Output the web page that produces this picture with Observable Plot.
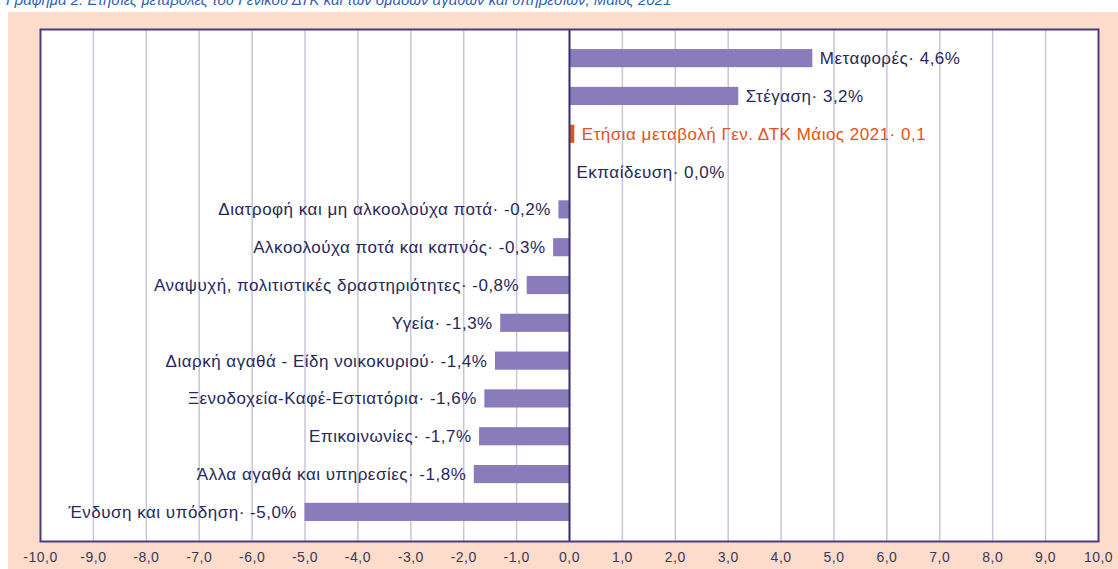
<!DOCTYPE html>
<html>
<head>
<meta charset="utf-8">
<script src="https://cdn.jsdelivr.net/npm/d3@7"></script>
<script src="https://cdn.jsdelivr.net/npm/@observablehq/plot@0.6"></script>
<style>
  html, body { margin: 0; padding: 0; background: #ffffff; width: 1118px; height: 569px; overflow: hidden; }
  #title { position: absolute; left: 6px; top: 0; width: 1110px; height: 11px; overflow: hidden; }
  #title span { position: absolute; left: 0; top: -9px; font: italic 15px "Liberation Sans", Arial, sans-serif; color: #2f5fb0; white-space: nowrap; }
  #panel { position: absolute; left: 8px; top: 12px; width: 1110px; height: 557px; background: #fddccb; }
  #chart { position: absolute; left: 0; top: 0; }
  .cpi text { letter-spacing: 0.5px; }
</style>
</head>
<body>
<div id="title"><span>Γράφημα 2: Ετήσιες μεταβολές του Γενικού ΔΤΚ και των ομάδων αγαθών και υπηρεσιών, Μάιος 2021</span></div>
<div id="panel"><div id="chart"></div></div>
<script>
const categories = [
  "Μεταφορές",
  "Στέγαση",
  "Ετήσια μεταβολή Γεν. ΔΤΚ Μάιος 2021",
  "Εκπαίδευση",
  "Διατροφή και μη αλκοολούχα ποτά",
  "Αλκοολούχα ποτά και καπνός",
  "Αναψυχή, πολιτιστικές δραστηριότητες",
  "Υγεία",
  "Διαρκή αγαθά - Είδη νοικοκυριού",
  "Ξενοδοχεία-Καφέ-Εστιατόρια",
  "Επικοινωνίες",
  "Άλλα αγαθά και υπηρεσίες",
  "Ένδυση και υπόδηση"
];
const values = [4.6, 3.2, 0.1, 0.0, -0.2, -0.3, -0.8, -1.3, -1.4, -1.6, -1.7, -1.8, -5.0];
const valueLabels = ["4,6%", "3,2%", "0,1", "0,0%", "-0,2%", "-0,3%", "-0,8%", "-1,3%", "-1,4%", "-1,6%", "-1,7%", "-1,8%", "-5,0%"];
const highlighted = ["Ετήσια μεταβολή Γεν. ΔΤΚ Μάιος 2021"];
const xTicks = d3.range(-10, 10.5, 1);
const gridTicks = d3.range(-9, 10, 1);

const data = categories.map((c, i) => ({
  name: c,
  value: values[i],
  label: c + "· " + valueLabels[i],
  hl: highlighted.includes(c)
}));

const barColor = "#8a7cbb";
const hlColor = "#e8501a";
const textColor = "#27285a";

const chart = Plot.plot({
  className: "cpi",
  width: 1110,
  height: 557,
  marginLeft: 32,
  marginRight: 20,
  marginTop: 17,
  marginBottom: 28,
  style: { background: "transparent", fontFamily: "'Liberation Sans', Arial, sans-serif", fontSize: "14px", color: "#3a3a58" },
  x: { domain: [-10, 10], ticks: xTicks, tickFormat: d => d.toFixed(1).replace(".", ","), tickSize: 0, tickPadding: 11, label: null },
  y: { domain: categories, axis: null, paddingInner: 0.52, paddingOuter: 0.53, round: false },
  marks: [
    Plot.frame({ fill: "white", stroke: null }),
    Plot.ruleX(gridTicks, { stroke: "#c9c5dc", strokeWidth: 1.5 }),
    Plot.barX(data, { x: "value", y: "name", fill: d => d.hl ? hlColor : barColor }),
    Plot.ruleX([0], { stroke: "#3b2f75", strokeWidth: 2 }),
    Plot.text(data.filter(d => d.value >= 0), {
      x: "value", y: "name", text: "label", textAnchor: "start", dx: 7,
      fill: d => d.hl ? hlColor : textColor, fontSize: 17
    }),
    Plot.text(data.filter(d => d.value < 0), {
      x: "value", y: "name", text: "label", textAnchor: "end", dx: -8,
      fill: textColor, fontSize: 17
    }),
    Plot.frame({ stroke: "#4b3d7c", strokeWidth: 2 })
  ]
});
document.getElementById("chart").appendChild(chart);
</script>
</body>
</html>
